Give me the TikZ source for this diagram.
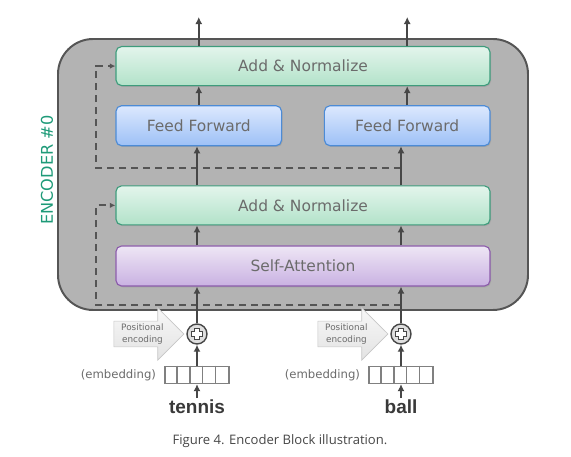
\documentclass[tikz,border=0pt]{standalone}
\usepackage{fontspec}
\setmainfont{DejaVu Sans}
\newfontfamily\capfont{Open Sans}
\newfontfamily\wordfont{Liberation Sans}
\usepackage{tikz}
\usetikzlibrary{positioning,shapes.arrows,arrows.meta,shadows}

\definecolor{antop}{HTML}{E3F5EC}
\definecolor{anbot}{HTML}{B2E2C9}
\definecolor{anline}{HTML}{3E9C7C}
\definecolor{fftop}{HTML}{DCE8FE}
\definecolor{ffbot}{HTML}{9DC0F6}
\definecolor{ffline}{HTML}{4C8BD6}
\definecolor{satop}{HTML}{EEE6F5}
\definecolor{sabot}{HTML}{C9B1E2}
\definecolor{saline}{HTML}{8C5CAB}
\definecolor{encfill}{HTML}{B3B3B3}
\definecolor{encline}{HTML}{555555}
\definecolor{arrowgray}{HTML}{474747}
\definecolor{txtgray}{HTML}{6B6B6B}
\definecolor{enccol}{HTML}{1E9A78}
\definecolor{embgray}{HTML}{808080}

\tikzset{
    block/.style={draw, rounded corners=4pt, line width=0.8pt, minimum height=0.975cm,
        text=txtgray, font=\fontsize{11}{13}\selectfont,
        drop shadow={opacity=0.3, shadow xshift=0.7pt, shadow yshift=-0.9pt}},
    addnorm/.style={block, draw=anline, top color=antop, bottom color=anbot, minimum width=9.35cm},
    feedfw/.style={block, draw=ffline, top color=fftop, bottom color=ffbot, minimum width=4.14cm, minimum height=1cm},
    selfatt/.style={block, draw=saline, top color=satop, bottom color=sabot, minimum width=9.35cm, minimum height=1cm},
    flow/.style={draw=arrowgray, line width=1.6pt, -{Latex[length=5pt,width=5pt]}},
    resid/.style={draw=encline, line width=1.3pt, dash pattern=on 5pt off 3.5pt, -{Latex[length=4pt,width=4pt]}},
    posenc/.style={single arrow, draw=gray!45, top color=gray!6, bottom color=gray!22,
        minimum height=1.75cm, single arrow head extend=0.33cm, inner sep=1.8pt,
        align=center, text=txtgray, font=\fontsize{6.3}{8.3}\selectfont},
    plus/.style={circle, draw=arrowgray, line width=1pt, fill=gray!25, minimum size=0.5cm, inner sep=0pt,
        path picture={
            \draw[line width=4.2pt, arrowgray]
                ([xshift=-0.16cm]path picture bounding box.center) -- ([xshift=0.16cm]path picture bounding box.center)
                ([yshift=-0.16cm]path picture bounding box.center) -- ([yshift=0.16cm]path picture bounding box.center);
            \draw[line width=2.2pt, white]
                ([xshift=-0.125cm]path picture bounding box.center) -- ([xshift=0.125cm]path picture bounding box.center)
                ([yshift=-0.125cm]path picture bounding box.center) -- ([yshift=0.125cm]path picture bounding box.center);
        }},
    embed/.style={draw=embgray, line width=1pt, fill=white, minimum width=1.6cm, minimum height=0.425cm, inner sep=0pt},
    embtext/.style={text=txtgray, inner sep=0pt, font=\fontsize{8.3}{10}\selectfont},
    word/.style={text=arrowgray!80!black, inner sep=1pt, font=\wordfont\bfseries\fontsize{13.5}{16}\selectfont}
}

\begin{document}
\begin{tikzpicture}[x=0.025cm, y=-0.025cm]
        \useasboundingbox (0,0) rectangle (571,457);
        \draw[fill=encfill, draw=encline, line width=1.4pt, rounded corners=25pt] (58,39) rectangle (528,310);
        \node[text=enccol, rotate=90, font=\fontsize{11.5}{13}\selectfont] (enc) at (47,170) {ENCODER \#0};
        \node[selfatt] (sa) at (303,266) {Self-Attention};
        \node[addnorm, above=0.5cm of sa] (an1) {Add \& Normalize};
        \node[feedfw, above right=0.975cm and 0cm of an1.north west] (ffl) {Feed Forward};
        \node[feedfw, above left=0.975cm and 0cm of an1.north east] (ffr) {Feed Forward};
        \node[addnorm, above right=0.475cm and 0cm of ffl.north west] (an2) {Add \& Normalize};
        \node[plus] (p1) at (197,334) {};
        \node[plus] (p2) at (401,334) {};
        \node[posenc, left=0.05cm of p1] (pe1) {Positional\\encoding};
        \node[posenc, left=0.05cm of p2] (pe2) {Positional\\encoding};
        \node[embed, below=0.525cm of p1] (e1) {};
        \node[embed, below=0.525cm of p2] (e2) {};
        \foreach \n in {e1,e2}
            \foreach \k in {1,...,4}
                \draw[embgray, line width=1pt] ([xshift=\k*0.32cm]\n.north west) -- ([xshift=\k*0.32cm]\n.south west);
        \node[embtext, left=0.2cm of e1] (et1) {(embedding)};
        \node[embtext, left=0.2cm of e2] (et2) {(embedding)};
        \node[word, below=0.35cm of e1] (w1) {tennis};
        \node[word, below=0.35cm of e2] (w2) {ball};
        \node[text=arrowgray, font=\capfont\fontsize{9.3}{11}\selectfont] (cap) at (280,441) {Figure 4. Encoder Block illustration.};
        \coordinate (top) at (0,17);
        \coordinate (rl) at (401,305);
        \coordinate (ru) at (401,168);
        \draw[resid] (rl) -| ([xshift=-0.475cm]an1.west) -- (an1.west);
        \draw[resid] (ru) -| ([xshift=-0.475cm]an2.west) -- (an2.west);
        \foreach \c/\f in {1/ffl,2/ffr}{
            \draw[flow] (w\c) -- (e\c);
            \draw[flow] (e\c) -- (p\c);
            \draw[flow] (p\c) -- (p\c |- sa.south);
            \draw[flow] (p\c |- sa.north) -- (p\c |- an1.south);
            \draw[flow] (p\c |- an1.north) -- (p\c |- \f.south);
            \draw[flow] (\f.north) -- (\f.north |- an2.south);
            \draw[flow] (\f.north |- an2.north) -- (\f.north |- top);
        }
    \end{tikzpicture}
\end{document}
